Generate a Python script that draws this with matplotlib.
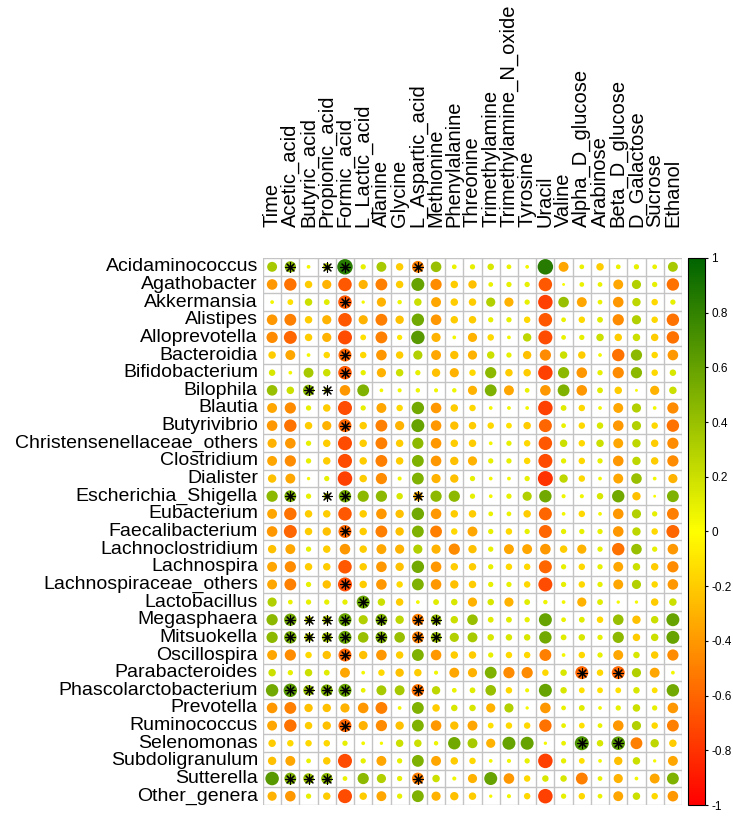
# Correlation plot: gut genera vs metabolites (corrplot-style circles)

import numpy as np
import matplotlib.pyplot as plt
from matplotlib.colors import LinearSegmentedColormap, Normalize
from matplotlib.cm import ScalarMappable

plt.rcParams['font.family'] = ['Liberation Sans', 'DejaVu Sans']

genera = ['Acidaminococcus', 'Agathobacter', 'Akkermansia', 'Alistipes', 'Alloprevotella',
          'Bacteroidia', 'Bifidobacterium', 'Bilophila', 'Blautia', 'Butyrivibrio',
          'Christensenellaceae_others', 'Clostridium', 'Dialister', 'Escherichia_Shigella',
          'Eubacterium', 'Faecalibacterium', 'Lachnoclostridium', 'Lachnospira',
          'Lachnospiraceae_others', 'Lactobacillus', 'Megasphaera', 'Mitsuokella',
          'Oscillospira', 'Parabacteroides', 'Phascolarctobacterium', 'Prevotella',
          'Ruminococcus', 'Selenomonas', 'Subdoligranulum', 'Sutterella', 'Other_genera']

metabolites = ['Time', 'Acetic_acid', 'Butyric_acid', 'Propionic_acid', 'Formic_acid',
               'L_Lactic_acid', 'Alanine', 'Glycine', 'L_Aspartic_acid', 'Methionine',
               'Phenylalanine', 'Threonine', 'Trimethylamine', 'Trimethylamine_N_oxide',
               'Tyrosine', 'Uracil', 'Valine', 'Alpha_D_glucose', 'Arabinose',
               'Beta_D_glucose', 'D_Galactose', 'Sucrose', 'Ethanol']

# correlation values, one row per genus
corr = [
    [0.35, 0.45, 0.05, 0.2, 0.85, 0.1, 0.35, -0.2, -0.5, 0.4, 0.08, 0.1, 0.15, 0.08, 0.05, 0.85, -0.35, 0.08, -0.2, 0.08, 0.1, 0.08, 0.35],
    [-0.4, -0.55, -0.2, -0.3, -0.65, -0.3, -0.5, -0.2, 0.6, -0.45, -0.2, -0.25, 0.08, 0.1, 0.1, -0.65, 0.03, 0.08, 0.08, -0.35, 0.3, 0.1, -0.55],
    [0.05, -0.12, 0.2, 0.12, -0.65, 0.04, -0.3, 0.07, 0.2, -0.35, -0.2, -0.2, 0.3, -0.3, 0.1, -0.75, 0.4, -0.35, 0.08, -0.4, 0.25, -0.15, 0.1],
    [-0.4, -0.5, -0.2, -0.3, -0.65, -0.3, -0.5, -0.25, 0.55, -0.4, -0.2, -0.2, 0.1, 0.1, -0.15, -0.65, 0.08, -0.15, 0.12, -0.45, 0.3, -0.15, -0.55],
    [-0.45, -0.6, -0.2, -0.3, -0.7, -0.12, -0.5, -0.1, 0.65, -0.3, 0.05, -0.3, -0.15, 0.05, 0.25, -0.7, 0.08, 0.1, 0.2, -0.2, 0.2, -0.2, -0.55],
    [-0.2, -0.35, 0.05, -0.15, -0.6, -0.15, -0.4, -0.2, 0.3, -0.35, -0.25, -0.3, 0.2, 0.1, -0.25, -0.45, 0.2, -0.2, 0.05, -0.55, 0.45, -0.15, -0.4],
    [0.15, 0.05, 0.35, 0.2, -0.65, 0.1, -0.3, 0.2, 0.1, -0.25, -0.3, -0.15, 0.45, -0.2, -0.2, -0.75, 0.45, -0.4, 0.1, -0.45, 0.45, -0.15, 0.15],
    [0.4, 0.2, 0.45, 0.12, -0.4, 0.5, 0.05, 0.06, 0.07, 0.06, 0.07, -0.3, 0.5, -0.35, 0.08, -0.4, 0.5, -0.4, 0.12, -0.2, 0.03, -0.3, 0.2],
    [-0.35, -0.45, 0.1, -0.2, -0.7, 0.1, -0.35, -0.15, 0.55, -0.4, -0.2, -0.15, 0.05, 0.05, 0.05, -0.75, 0.12, -0.15, 0.05, -0.35, 0.3, 0.05, -0.45],
    [-0.4, -0.55, -0.2, -0.3, -0.6, -0.2, -0.5, -0.3, 0.6, -0.4, -0.25, -0.2, -0.15, -0.12, -0.2, -0.6, 0.08, -0.15, 0.15, -0.4, 0.3, -0.15, -0.55],
    [-0.3, -0.4, 0.1, -0.2, -0.7, -0.2, -0.5, -0.2, 0.45, -0.4, -0.2, -0.2, 0.05, 0.1, -0.15, -0.65, 0.2, -0.15, 0.2, -0.35, 0.25, -0.2, -0.45],
    [-0.35, -0.45, 0.1, -0.2, -0.7, -0.2, -0.5, -0.2, 0.5, -0.4, -0.25, -0.3, 0.1, 0.1, -0.15, -0.7, 0.1, -0.15, 0.1, -0.4, 0.25, -0.2, -0.45],
    [-0.25, -0.35, 0.04, 0.1, -0.75, -0.2, -0.45, 0.06, 0.5, -0.3, -0.25, 0.1, 0.05, 0.05, 0.1, -0.8, 0.25, -0.15, 0.05, -0.35, 0.4, 0.05, -0.3],
    [0.45, 0.5, 0.1, 0.15, 0.55, 0.45, 0.45, 0.15, -0.3, 0.45, 0.45, 0.1, 0.05, 0.1, 0.3, 0.55, 0.06, 0.06, 0.15, 0.55, -0.25, 0.03, 0.5],
    [-0.35, -0.55, -0.2, -0.2, -0.65, -0.2, -0.4, -0.25, 0.55, -0.4, -0.2, -0.2, 0.08, 0.08, -0.2, -0.6, 0.05, -0.15, 0.05, -0.4, 0.3, 0.1, -0.5],
    [-0.4, -0.6, -0.2, -0.25, -0.6, -0.2, -0.5, -0.25, 0.5, -0.5, -0.15, -0.35, 0.1, -0.15, 0.1, -0.6, 0.1, 0.1, 0.1, -0.4, 0.25, -0.15, -0.6],
    [-0.25, -0.35, 0.1, -0.2, -0.4, -0.2, -0.35, -0.3, 0.3, -0.3, -0.45, -0.25, 0.1, -0.35, -0.35, -0.4, -0.2, -0.3, 0.1, -0.55, 0.4, 0.1, -0.4],
    [-0.35, -0.45, -0.2, -0.2, -0.65, -0.2, -0.4, -0.25, 0.55, -0.4, -0.2, -0.2, 0.1, -0.15, -0.15, -0.6, 0.1, -0.15, 0.1, -0.35, 0.2, -0.2, -0.45],
    [-0.35, -0.5, 0.1, -0.25, -0.7, -0.2, -0.4, -0.15, 0.5, -0.4, -0.25, -0.2, 0.1, 0.1, -0.15, -0.7, 0.1, -0.15, 0.1, -0.35, 0.3, -0.15, -0.4],
    [0.3, 0.08, 0.1, 0.1, 0.1, 0.6, 0.2, -0.2, 0.05, 0.12, 0.15, -0.3, 0.15, -0.3, 0.12, 0.07, 0.05, -0.3, 0.12, 0.04, 0.04, -0.2, 0.2],
    [0.45, 0.55, 0.2, 0.25, 0.6, 0.3, 0.5, 0.25, -0.5, 0.4, 0.2, 0.4, 0.12, 0.12, 0.1, 0.6, 0.08, 0.12, -0.15, 0.4, -0.25, 0.2, 0.6],
    [0.45, 0.55, 0.25, 0.35, 0.6, 0.4, 0.5, 0.4, -0.5, 0.4, 0.3, 0.35, 0.15, 0.15, 0.15, 0.55, 0.12, 0.15, 0.1, 0.45, -0.2, 0.2, 0.6],
    [-0.35, -0.45, -0.15, -0.25, -0.6, -0.25, -0.4, -0.2, 0.5, -0.4, -0.2, -0.2, 0.1, -0.15, -0.15, -0.5, 0.05, -0.15, 0.1, -0.35, 0.15, -0.2, -0.45],
    [0.2, 0.1, 0.2, 0.12, -0.35, 0.05, -0.15, -0.25, -0.2, 0.06, -0.35, -0.3, 0.5, -0.45, -0.45, -0.15, 0.15, -0.6, -0.15, -0.6, 0.3, -0.35, 0.05],
    [0.55, 0.65, 0.4, 0.5, 0.6, 0.08, 0.35, 0.35, -0.55, 0.25, 0.08, 0.12, 0.4, -0.15, 0.06, 0.6, 0.15, -0.12, -0.12, -0.12, 0.15, -0.12, 0.55],
    [-0.4, -0.5, -0.25, -0.25, -0.3, -0.4, -0.5, 0.05, 0.5, -0.2, 0.15, 0.15, -0.3, 0.3, 0.04, -0.4, 0.08, 0.12, 0.05, 0.1, 0.2, 0.1, -0.4],
    [-0.35, -0.55, -0.2, -0.25, -0.6, -0.3, -0.45, -0.25, 0.5, -0.4, -0.25, -0.35, -0.12, -0.15, -0.15, -0.55, 0.08, -0.12, 0.08, -0.4, 0.3, -0.15, -0.5],
    [-0.2, -0.15, -0.15, -0.15, 0.1, 0.05, 0.04, 0.2, 0.2, 0.07, 0.55, 0.35, -0.3, 0.6, 0.6, 0.04, 0.08, 0.7, 0.15, 0.65, -0.5, 0.25, -0.2],
    [-0.25, -0.35, 0.08, -0.2, -0.7, 0.1, -0.35, 0.1, 0.5, -0.35, -0.2, -0.15, 0.05, 0.06, 0.1, -0.75, 0.1, -0.12, 0.05, -0.25, 0.2, 0.04, -0.35],
    [0.65, 0.5, 0.4, 0.45, 0.08, 0.45, 0.3, 0.1, -0.5, 0.2, 0.06, -0.3, 0.6, -0.4, -0.15, 0.15, 0.15, -0.5, 0.08, -0.3, 0.05, -0.35, 0.5],
    [-0.3, -0.4, 0.1, -0.2, -0.7, -0.2, -0.35, 0.1, 0.5, -0.3, -0.25, -0.2, 0.04, 0.06, -0.15, -0.75, 0.1, -0.15, 0.08, -0.35, 0.2, -0.15, -0.4],
]

# significant cells (marked with *): genus -> metabolites
signif = {
    'Acidaminococcus': ['Acetic_acid', 'Propionic_acid', 'Formic_acid', 'L_Aspartic_acid'],
    'Akkermansia': ['Formic_acid'],
    'Bacteroidia': ['Formic_acid'],
    'Bifidobacterium': ['Formic_acid'],
    'Bilophila': ['Butyric_acid', 'Propionic_acid'],
    'Butyrivibrio': ['Formic_acid'],
    'Escherichia_Shigella': ['Acetic_acid', 'Propionic_acid', 'Formic_acid', 'L_Aspartic_acid'],
    'Faecalibacterium': ['Formic_acid'],
    'Lachnospiraceae_others': ['Formic_acid'],
    'Lactobacillus': ['L_Lactic_acid'],
    'Megasphaera': ['Acetic_acid', 'Butyric_acid', 'Propionic_acid', 'Formic_acid', 'Alanine',
                    'L_Aspartic_acid', 'Methionine'],
    'Mitsuokella': ['Acetic_acid', 'Butyric_acid', 'Propionic_acid', 'Formic_acid', 'Alanine',
                    'L_Aspartic_acid', 'Methionine'],
    'Oscillospira': ['Formic_acid'],
    'Parabacteroides': ['Alpha_D_glucose', 'Beta_D_glucose'],
    'Phascolarctobacterium': ['Acetic_acid', 'Butyric_acid', 'Propionic_acid', 'Formic_acid',
                              'L_Aspartic_acid'],
    'Ruminococcus': ['Formic_acid'],
    'Selenomonas': ['Alpha_D_glucose', 'Beta_D_glucose'],
    'Sutterella': ['Acetic_acid', 'Butyric_acid', 'Propionic_acid', 'L_Aspartic_acid'],
}

corr = np.array(corr)
nrow, ncol = corr.shape

cmap = LinearSegmentedColormap.from_list('ryg', ['#FF0000', '#FFFF00', '#006400'])
norm = Normalize(-1, 1)

W, H, DPI = 733, 822, 100
fig = plt.figure(figsize=(W / DPI, H / DPI), dpi=DPI)

# grid area in pixels
gx0, gx1, gy0, gy1 = 263, 682, 258, 805
ax = fig.add_axes([gx0 / W, 1 - gy1 / H, (gx1 - gx0) / W, (gy1 - gy0) / H])
ax.set_xlim(0.5, ncol + 0.5)
ax.set_ylim(nrow + 0.5, 0.5)

for k in range(ncol + 1):
    ax.axvline(k + 0.5, color='#C4C4C4', lw=1, zorder=1)
for k in range(nrow + 1):
    ax.axhline(k + 0.5, color='#C4C4C4', lw=1, zorder=1)

cell_h = (gy1 - gy0) / nrow
xx, yy = np.meshgrid(np.arange(1, ncol + 1), np.arange(1, nrow + 1))
diam_pt = 0.95 * np.sqrt(np.abs(corr)) * cell_h * 72 / DPI
ax.scatter(xx.ravel(), yy.ravel(), s=(diam_pt ** 2).ravel(), c=corr.ravel(),
           cmap=cmap, norm=norm, linewidths=0, zorder=2)

# significance asterisks
sx, sy = [], []
for g, mets in signif.items():
    for m in mets:
        sx.append(metabolites.index(m) + 1)
        sy.append(genera.index(g) + 1)
ax.scatter(sx, sy, marker=(8, 2, 0), s=50, c='black', linewidths=0.8, zorder=3)

for s in ax.spines.values():
    s.set_visible(False)
ax.set_xticks([])
ax.set_yticks([])

# labels
for i, g in enumerate(genera):
    ax.text(0.5 - 5 / 18.2, i + 1, g, ha='right', va='center', fontsize=14)
for j, m in enumerate(metabolites):
    ax.text(j + 1, 0.5 - 31 / cell_h, m, ha='center', va='bottom', rotation=90,
            fontsize=14.5)

# colour legend
cax = fig.add_axes([688 / W, 1 - gy1 / H, 17 / W, (gy1 - gy0) / H])
cb = fig.colorbar(ScalarMappable(norm=norm, cmap=cmap), cax=cax)
cb.set_ticks(np.linspace(-1, 1, 11))
cb.set_ticklabels(['-1', '-0.8', '-0.6', '-0.4', '-0.2', '0', '0.2', '0.4', '0.6', '0.8', '1'])
cb.ax.tick_params(labelsize=8.5, length=2.5, width=0.8, pad=2)
cb.outline.set_linewidth(0.8)

fig.savefig('out.png', dpi=DPI)
